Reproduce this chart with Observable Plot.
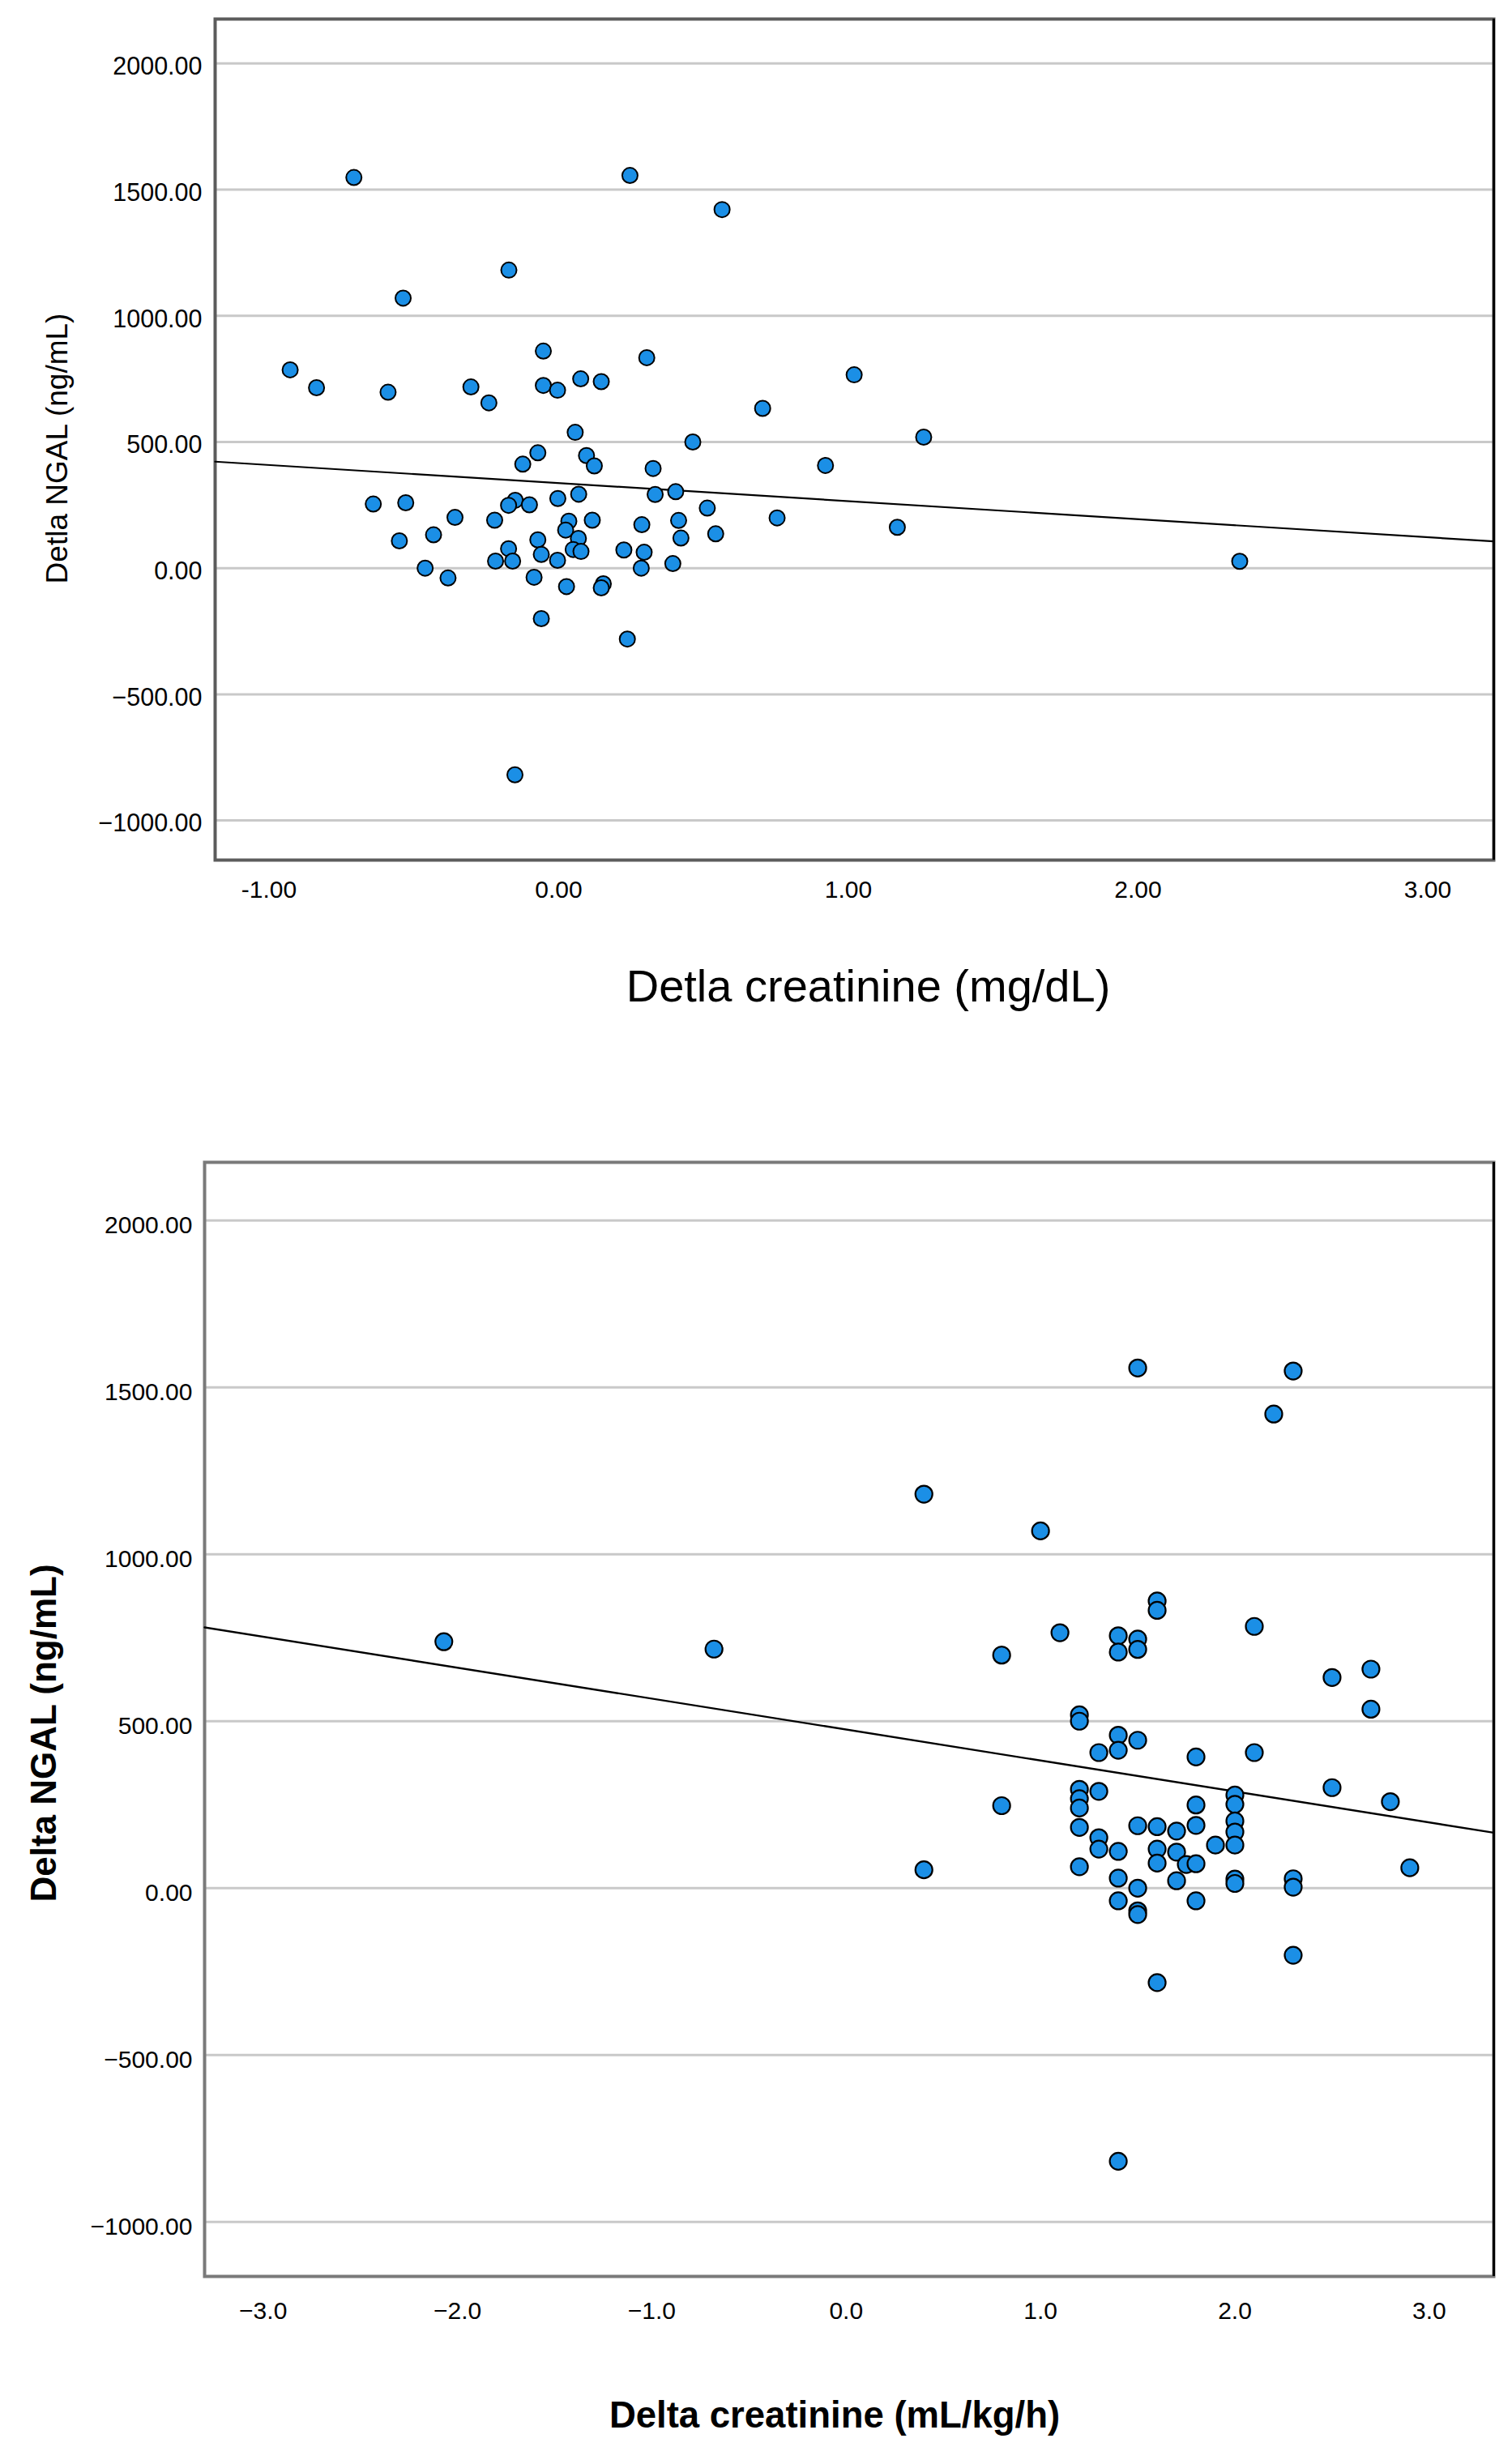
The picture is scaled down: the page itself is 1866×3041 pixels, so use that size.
<!DOCTYPE html>
<html>
<head>
<meta charset="utf-8">
<script src="https://cdn.jsdelivr.net/npm/d3@7"></script>
<script src="https://cdn.jsdelivr.net/npm/@observablehq/plot@0.6"></script>
<style>
  html, body { margin: 0; padding: 0; background: #ffffff; }
  #chart svg { display: block; }
</style>
</head>
<body>
<div id="chart"></div>
<script>
// ---------- Top chart data: Delta creatinine (mg/dL) vs Delta NGAL ----------
const topX = [-0.927, -0.836, -0.589, -0.303, -0.241, -0.053, -0.053, -0.004, 0.076, 0.147,
  0.304, 0.057, 0.463, -0.072, -0.124, 0.096, 0.123, 0.326, 0.069, 0.333,
  0.404, -0.003, -0.150, -0.173, -0.101, -0.640, -0.528, 0.513, -0.358, -0.221,
  0.035, 0.116, 0.287, 0.414, -0.432, -0.550, 0.024, 0.068, -0.072, 0.422,
  0.542, -0.173, -0.060, 0.050, 0.077, 0.225, 0.295, -0.218, -0.159, -0.004,
  0.394, 0.285, -0.461, -0.382, -0.085, 0.027, 0.154, 0.147, -0.060, 0.237,
  -0.151, -0.707, 0.246, 0.564, -0.172, -0.537, 0.704, 1.020, 1.260, 0.921,
  0.754, 1.169, 2.351];
const topY = [786, 715, 697, 718, 655, 860, 724, 705, 750, 739,
  834, 538, 500, 457, 412, 446, 405, 395, 293, 292,
  303, 276, 269, 249, 251, 254, 259, 238, 201, 190,
  186, 190, 172, 189, 132, 108, 151, 118, 112, 119,
  136, 77, 54, 74, 66, 72, 63, 28, 28, 31,
  18, 0, 0, -39, -36, -73, -62, -78, -200, -281,
  -819, 1548, 1556, 1421, 1181, 1070, 633, 766, 519, 407,
  199, 162, 27];
const topFitX = [-1.186, 3.228];
const topFitY = [422, 106];
const topXDomain = [-1.186, 3.228];
const topYDomain = [-1157, 2176];
const topXTicks = [-1, 0, 1, 2, 3];
const topXLabel = "Detla creatinine (mg/dL)";
const topYLabel = "Detla NGAL (ng/mL)";

// ---------- Bottom chart data: Delta creatinine (mL/kg/h) vs Delta NGAL ----------
const bottomX = [-2.07, -0.68, 0.4, 0.4, 0.8, 0.8, 1.0, 1.1,
  1.2, 1.2, 1.2, 1.2, 1.2, 1.2, 1.2,
  1.3, 1.3, 1.3, 1.3,
  1.4, 1.4, 1.4, 1.4, 1.4, 1.4, 1.4, 1.4,
  1.5, 1.5, 1.5, 1.5, 1.5, 1.5, 1.5, 1.5,
  1.6, 1.6, 1.6, 1.6, 1.6, 1.6,
  1.7, 1.7, 1.7,
  1.75,
  1.8, 1.8, 1.8, 1.8, 1.8,
  1.9,
  2.0, 2.0, 2.0, 2.0, 2.0, 2.0, 2.0,
  2.1, 2.1,
  2.2,
  2.3, 2.3, 2.3, 2.3,
  2.5, 2.5,
  2.7, 2.7,
  2.8,
  2.9];
const bottomY = [738, 716, 1180, 55, 698, 247, 1070, 765,
  519, 500, 296, 268, 240, 182, 64,
  406, 290, 151, 117,
  756, 707, 458, 413, 110, 30, -38, -818,
  1558, 746, 715, 443, 187, 0, -68, -79,
  860, 832, 184, 117, 75, -283,
  171, 108, 22,
  71,
  393, 249, 188, 73, -38,
  129,
  279, 251, 201, 168, 129, 27, 14,
  784, 406,
  1420,
  1549, 28, 3, -201,
  631, 301,
  656, 536,
  259,
  61];
const bottomFitX = [-3.301, 3.332];
const bottomFitY = [781, 166];
const bottomXDomain = [-3.301, 3.332];
const bottomYDomain = [-1163, 2174];
const bottomXTicks = [-3, -2, -1, 0, 1, 2, 3];
const bottomXLabel = "Delta creatinine (mL/kg/h)";
const bottomYLabel = "Delta NGAL (ng/mL)";

const yTicks = [-1000, -500, 0, 500, 1000, 1500, 2000];

// ---------- Rendering ----------
const font = "'Liberation Sans', Arial, Helvetica, sans-serif";
const blue = "#1b8fe6";
const fmtY = d3.format(".2f");

const topData = topX.map((x, i) => ({x, y: topY[i]}));
const topFit = topFitX.map((x, i) => ({x, y: topFitY[i]}));
const bottomData = bottomX.map((x, i) => ({x, y: bottomY[i]}));
const bottomFit = bottomFitX.map((x, i) => ({x, y: bottomFitY[i]}));

const topPlot = Plot.plot({
  width: 1866,
  height: 1290,
  marginLeft: 265,
  marginRight: 23,
  marginTop: 23,
  marginBottom: 229,
  style: {fontFamily: font, fontSize: "30px", background: "white", color: "black", overflow: "visible"},
  x: {domain: topXDomain},
  y: {domain: topYDomain},
  marks: [
    Plot.gridY({ticks: yTicks, stroke: "#c9c9c9", strokeOpacity: 1, strokeWidth: 3}),
    Plot.frame({stroke: "#5c5c5c", strokeWidth: 4}),
    Plot.ruleX([topXDomain[1]], {stroke: "black", strokeWidth: 3}),
    Plot.line(topFit, {x: "x", y: "y", stroke: "black", strokeWidth: 2.2}),
    Plot.dot(topData, {x: "x", y: "y", r: 9.5, fill: blue, stroke: "black", strokeWidth: 2}),
    Plot.axisY({ticks: yTicks, tickSize: 0, tickPadding: 16, tickFormat: fmtY, fontSize: 30.5, dy: 4, label: null}),
    Plot.axisX({ticks: topXTicks, tickSize: 0, tickPadding: 25, tickFormat: d => d.toFixed(2), fontSize: 30, label: null}),
    Plot.text([topXLabel], {text: d => d, frameAnchor: "bottom", lineAnchor: "bottom", textAnchor: "middle", dx: 17, dy: 174, fontSize: 56, fill: "black"}),
    Plot.text([topYLabel], {text: d => d, frameAnchor: "left", rotate: -90, lineAnchor: "bottom", textAnchor: "middle", dx: -183, dy: 11, fontSize: 37, fill: "black"})
  ]
});

const bottomPlot = Plot.plot({
  width: 1866,
  height: 1751,
  marginLeft: 252,
  marginRight: 23,
  marginTop: 144,
  marginBottom: 232,
  style: {fontFamily: font, fontSize: "30px", background: "white", color: "black", overflow: "visible"},
  x: {domain: bottomXDomain},
  y: {domain: bottomYDomain},
  marks: [
    Plot.gridY({ticks: yTicks, stroke: "#c9c9c9", strokeOpacity: 1, strokeWidth: 3}),
    Plot.frame({stroke: "#7a7a7a", strokeWidth: 4}),
    Plot.ruleX([bottomXDomain[1]], {stroke: "black", strokeWidth: 3}),
    Plot.line(bottomFit, {x: "x", y: "y", stroke: "black", strokeWidth: 2.4}),
    Plot.dot(bottomData, {x: "x", y: "y", r: 10.5, fill: blue, stroke: "black", strokeWidth: 2.2}),
    Plot.axisY({ticks: yTicks, tickSize: 0, tickPadding: 15, tickFormat: fmtY, fontSize: 30, dy: 6, label: null}),
    Plot.axisX({ticks: bottomXTicks, tickSize: 0, tickPadding: 31, tickFormat: d3.format(".1f"), fontSize: 30, label: null}),
    Plot.text([bottomXLabel], {text: d => d, frameAnchor: "bottom", lineAnchor: "bottom", textAnchor: "middle", dx: -18, dy: 186, fontSize: 45.5, fontWeight: "bold", fill: "black"}),
    Plot.text([bottomYLabel], {text: d => d, frameAnchor: "left", rotate: -90, lineAnchor: "bottom", textAnchor: "middle", dx: -184, dy: 17, fontSize: 44, fontWeight: "bold", fill: "black"})
  ]
});

const root = document.getElementById("chart");
root.appendChild(topPlot);
root.appendChild(bottomPlot);
</script>
</body>
</html>
